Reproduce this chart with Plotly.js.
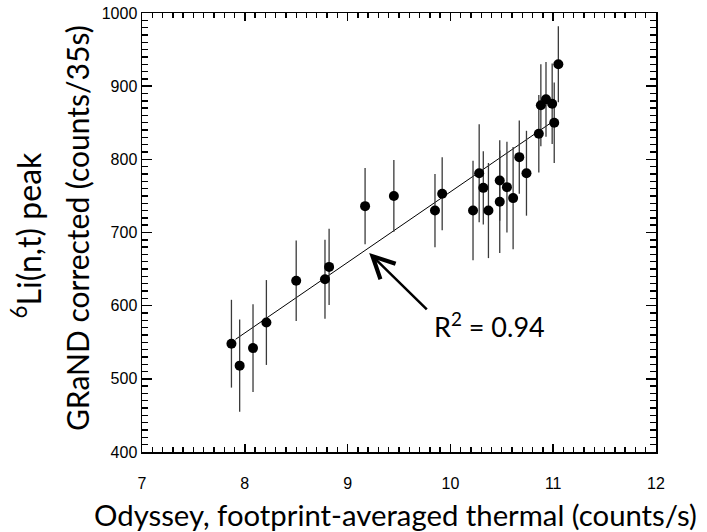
<!DOCTYPE html>
<html>
<head>
<meta charset="utf-8">
<script src="https://cdn.plot.ly/plotly-3.0.1.min.js"></script>
<style>
html,body{margin:0;padding:0;background:#fff;}
#chart{width:707px;height:532px;}
</style>
</head>
<body>
<div id="chart"></div>
<script>
// Odyssey footprint-averaged thermal (counts/s)
const thermal = [7.87, 7.95, 8.08, 8.21, 8.50, 8.78, 8.82, 9.17, 9.45, 9.85, 9.92,
                 10.22, 10.28, 10.32, 10.37, 10.48, 10.48, 10.55, 10.61, 10.67, 10.74,
                 10.86, 10.88, 10.93, 10.99, 11.01, 11.05];
// GRaND corrected 6Li(n,t) peak (counts/35s)
const peak = [548, 518, 542, 577, 634, 636, 653, 736, 750, 730, 753,
              730, 781, 761, 730, 742, 771, 762, 747, 803, 781,
              835, 874, 882, 876, 850, 930];
// one-sigma error bars
const peakErr = [60, 63, 60, 58, 55, 54, 52, 52, 49, 50, 50,
                 68, 67, 50, 65, 70, 55, 62, 70, 50, 58,
                 53, 56, 51, 55, 55, 52];
// linear fit end points
const fitX = [7.91, 11.0];
const fitY = [554, 852];
const xRange = [7, 12];
const yRange = [400, 1000];
const r2Label = 'R<sup>2</sup> = 0.94';
const arrowTip = [9.21, 672];
const arrowTail = [9.785, 593];
const xTitle = 'Odyssey, footprint-averaged thermal (counts/s)';
const yTitle1 = '<sup>6</sup>Li(n,t) peak';
const yTitle2 = 'GRaND corrected (counts/35s)';

const fam = 'Lato, "Open Sans", sans-serif';
const tickFont = {family: 'Liberation Sans, Arial, sans-serif', size: 16, color: '#000'};

const traces = [
  {
    x: fitX, y: fitY, mode: 'lines', type: 'scatter',
    line: {color: '#000', width: 1}, hoverinfo: 'skip', showlegend: false
  },
  {
    x: thermal, y: peak, mode: 'markers', type: 'scatter',
    marker: {color: '#000', size: 10},
    error_y: {type: 'data', array: peakErr, visible: true, width: 0, thickness: 1.3, color: '#3a3a3a'},
    showlegend: false
  }
];

const axisCommon = {
  showgrid: false, zeroline: false, showline: true, linecolor: '#000', linewidth: 1.5,
  mirror: 'allticks', ticks: 'inside', tickcolor: '#000', tickwidth: 1.6,
  tickfont: tickFont, tickmode: 'linear', layer: 'above traces'
};

const layout = {
  width: 707, height: 532,
  margin: {l: 142, r: 51, t: 13, b: 80},
  showlegend: false,
  xaxis: Object.assign({}, axisCommon, {
    range: xRange, tick0: 7, dtick: 1, ticklen: 8,
    ticklabelstandoff: 16,
    minor: {tickmode: 'linear', tick0: 7, dtick: 0.1, ticks: 'inside', ticklen: 5, tickcolor: '#000', tickwidth: 1.4, showgrid: false}
  }),
  yaxis: Object.assign({}, axisCommon, {
    range: yRange, tick0: 400, dtick: 100, ticklen: 10,
    minor: {tickmode: 'linear', tick0: 400, dtick: 10, ticks: 'inside', ticklen: 6, tickcolor: '#000', tickwidth: 1.4, showgrid: false}
  }),
  annotations: [
    {
      x: arrowTip[0], y: arrowTip[1], ax: arrowTail[0], ay: arrowTail[1],
      xref: 'x', yref: 'y', axref: 'x', ayref: 'y',
      text: '', showarrow: true, arrowhead: 5, arrowwidth: 2.5, arrowsize: 1.7, arrowcolor: '#000'
    },
    {
      x: 9.82, y: 574, xref: 'x', yref: 'y', xanchor: 'left', yanchor: 'middle',
      text: r2Label, showarrow: false, font: {family: fam, size: 27, color: '#000'}
    },
    {
      x: 0.494, y: -0.1435, xref: 'paper', yref: 'paper', xanchor: 'center', yanchor: 'middle',
      text: xTitle, showarrow: false, font: {family: fam, size: 29.3, color: '#000'}
    },
    {
      x: -0.226, y: 0.493, xref: 'paper', yref: 'paper', xanchor: 'center', yanchor: 'middle',
      text: yTitle1, showarrow: false, textangle: -90, font: {family: fam, size: 32, color: '#000'}
    },
    {
      x: -0.1265, y: 0.510, xref: 'paper', yref: 'paper', xanchor: 'center', yanchor: 'middle',
      text: yTitle2, showarrow: false, textangle: -90, font: {family: fam, size: 30, color: '#000'}
    }
  ]
};

Plotly.newPlot('chart', traces, layout, {displayModeBar: false, staticPlot: true});
</script>
</body>
</html>
